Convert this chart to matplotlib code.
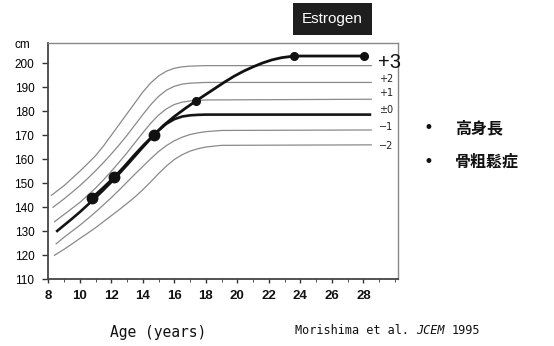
import matplotlib
matplotlib.use('Agg')
import matplotlib.pyplot as plt
from matplotlib.patches import Rectangle
from matplotlib.ticker import MultipleLocator

# reference growth curves (SD lines), age in years / height in cm
sd_labels = ['+3', '+2', '+1', '\u00b10', '\u22121', '\u22122']

sd_p3_age = [8.2, 9, 9.5, 10, 10.5, 11, 11.5, 12, 12.5, 13, 13.5, 14, 14.5,
             15, 15.5, 16, 16.5, 17, 18, 28.5]
sd_p3_cm = [145, 149, 152, 155, 158.2, 161.5, 165.5, 170, 174.5, 179, 183.5,
            188, 191.8, 194.7, 196.7, 197.9, 198.5, 198.8, 199, 199]

sd_p2_age = [8.3, 9, 9.5, 10, 10.5, 11, 11.5, 12, 12.5, 13, 13.5, 14, 14.5,
             15, 15.5, 16, 16.5, 17, 18, 28.5]
sd_p2_cm = [140, 143.5, 146.2, 149, 152, 155.2, 158.6, 162.2, 166, 170, 174.3,
            178.6, 182.7, 186.2, 188.8, 190.4, 191.3, 191.7, 192, 192]

sd_p1_age = [8.4, 9, 9.5, 10, 10.5, 11, 11.5, 12, 12.5, 13, 13.5, 14, 14.5,
             15, 15.5, 16, 16.5, 17, 18, 28.5]
sd_p1_cm = [134, 137, 139.5, 142, 145, 148, 151.4, 155, 158.8, 162.7, 166.9,
            171, 175, 178.4, 181, 182.8, 183.8, 184.3, 184.7, 185]

sd_0_age = [8.5, 9, 9.5, 10, 10.5, 11, 11.5, 12, 12.5, 13, 13.5, 14, 14.5,
            15, 15.5, 16, 16.5, 17, 17.5, 18, 28.5]
sd_0_cm = [129.8, 132.5, 135.2, 138, 141, 144, 147.2, 150.5, 154, 157.6, 161.3,
           165, 168.6, 172, 174.8, 176.7, 177.8, 178.3, 178.5, 178.6, 178.6]

sd_m1_age = [8.5, 9, 9.5, 10, 10.5, 11, 11.5, 12, 12.5, 13, 13.5, 14, 14.5,
             15, 15.5, 16, 16.5, 17, 17.5, 18, 19, 28.5]
sd_m1_cm = [124.8, 127.5, 130, 132.5, 135.2, 138, 141, 144, 147.2, 150.5, 153.8,
            157, 160.2, 163.2, 165.7, 167.7, 169.2, 170.3, 171, 171.5, 172, 172.2]

sd_m2_age = [8.4, 9, 9.5, 10, 10.5, 11, 11.5, 12, 12.5, 13, 13.5, 14, 14.5,
             15, 15.5, 16, 16.5, 17, 17.5, 18, 19, 28.5]
sd_m2_cm = [120, 122.5, 124.7, 127, 129.2, 131.5, 134, 136.5, 139, 141.6, 144.3,
            147.3, 150.6, 154, 157.2, 159.9, 161.9, 163.4, 164.4, 165.1, 165.8, 166]

# patient measurements and the drawn curve through them
visit_age = [10.75, 12.2, 14.7, 17.4, 23.6, 28.04]
visit_cm = [143.75, 152.6, 170.1, 184.4, 203, 203]
patient_age = [10.75, 11.5, 12.2, 12.8, 13.5, 14.1, 14.7, 15.3, 16.0, 16.7,
               17.4, 18.0, 18.6, 19.2, 19.8, 20.4, 21.0, 21.6, 22.2, 22.8,
               23.6, 28.04]
patient_cm = [143.75, 148.2, 152.6, 156.8, 162, 166.2, 170.1, 174, 177.8, 181.2,
              184.4, 187, 189.6, 192.2, 194.6, 196.7, 198.5, 200.1, 201.4, 202.3,
              203, 203]

x_ticks = list(range(8, 29, 2))
y_ticks = list(range(110, 201, 10))

W, H = 554, 346


def fx(x):
    return x / W


def fy(y):
    return 1 - y / H


fig = plt.figure(figsize=(W / 100, H / 100), dpi=100)
ax = fig.add_axes([fx(48.3), fy(279.3), (398 - 48.3) / W, (279.3 - 43.3) / H])

curves = [(sd_p3_age, sd_p3_cm), (sd_p2_age, sd_p2_cm), (sd_p1_age, sd_p1_cm),
          (sd_0_age, sd_0_cm), (sd_m1_age, sd_m1_cm), (sd_m2_age, sd_m2_cm)]
for i, (a, c) in enumerate(curves):
    if i == 3:
        ax.plot(a, c, color='#151515', lw=1.9, solid_capstyle='butt',
                solid_joinstyle='round')
    else:
        ax.plot(a, c, color='#8a8a8a', lw=0.9, solid_joinstyle='round')

ax.plot(patient_age, patient_cm, color='#111111', lw=2.0, solid_joinstyle='round')
ax.plot(visit_age[:3], visit_cm[:3], 'o', color='#111111', ms=7.5)
ax.plot(visit_age[3:], visit_cm[3:], 'o', color='#111111', ms=5.5)

# SD labels to the right of the curve ends
ax.text(28.9, 200.2, sd_labels[0], fontsize=14.5, family='Liberation Sans',
        va='center', ha='left', color='#111')
label_y = [193.3, 187.4, 180.5, 173.5, 165.5]
for lab, yy in zip(sd_labels[1:], label_y):
    ax.text(29.0, yy, lab, fontsize=7, family='DejaVu Sans', va='center',
            ha='left', color='#222')

ax.set_xlim(8, 30.2)
ax.set_ylim(110, 208.3)
ax.set_xticks(x_ticks)
ax.set_yticks(y_ticks)
ax.xaxis.set_minor_locator(MultipleLocator(1))
ax.tick_params(axis='x', which='major', direction='out', length=3, width=1,
               pad=5, labelsize=9.5, colors='#333')
ax.tick_params(axis='x', which='minor', direction='out', length=2, color='#333')
ax.tick_params(axis='y', direction='out', length=4, width=1, pad=6,
               labelsize=8.5, colors='#333')
for lab in ax.get_xticklabels():
    lab.set_fontweight('bold')
    lab.set_family('Liberation Sans')
    lab.set_color('#111')
for lab in ax.get_yticklabels():
    lab.set_family('Liberation Sans')
    lab.set_color('#000')

for side in ['left', 'bottom']:
    ax.spines[side].set_color('#444')
    ax.spines[side].set_linewidth(1.3)
for side in ['top', 'right']:
    ax.spines[side].set_color('#888')
    ax.spines[side].set_linewidth(1.0)

fig.text(fx(22), fy(45), 'cm', fontsize=8.5, ha='center', va='center',
         family='Liberation Sans', color='#000')

# Estrogen box
fig.patches.append(Rectangle((fx(293), fy(35)), 79 / W, 32 / H,
                             transform=fig.transFigure, facecolor='#1e1e1e',
                             edgecolor='none'))
fig.text(fx(332.5), fy(19), 'Estrogen', fontsize=11, color='white',
         ha='center', va='center', family='Liberation Sans')

# legend-like Japanese notes
jp = ['Noto Sans CJK JP', 'DejaVu Sans']
for yy, txt in [(128, '高身長'), (162, '骨粗鬆症')]:
    fig.text(fx(428), fy(yy), '\u2022', fontsize=12, ha='center', va='center',
             family='DejaVu Sans', color='#111')
    fig.text(fx(455), fy(yy), txt, fontsize=11.5, ha='left', va='center',
             family=jp, fontweight='bold', color='#111')

# bottom captions
fig.text(fx(110), fy(332), 'Age (years)', fontsize=10.5, ha='left',
         va='center', family='DejaVu Sans Mono', color='#111')
cw = 0.602 * 8.5 * 100 / 72
x0 = 295
fig.text(fx(x0), fy(330), 'Morishima et al.', fontsize=8.5, ha='left',
         va='center', family='DejaVu Sans Mono', color='#111')
fig.text(fx(x0 + 17 * cw), fy(330), 'JCEM', fontsize=8.5, ha='left',
         va='center', family='DejaVu Sans Mono', style='italic', color='#111')
fig.text(fx(x0 + 22 * cw), fy(330), '1995', fontsize=8.5, ha='left',
         va='center', family='DejaVu Sans Mono', color='#111')

fig.savefig('out.png', dpi=100)
